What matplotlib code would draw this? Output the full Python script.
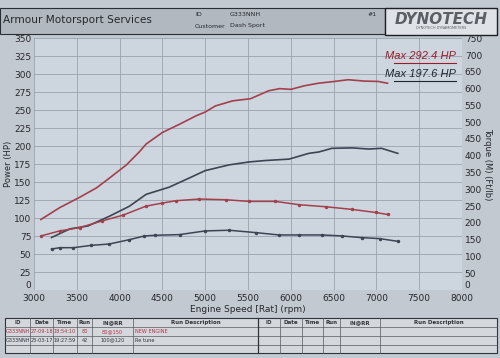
import matplotlib
matplotlib.use("Agg")
import matplotlib.pyplot as plt
from matplotlib.patches import Rectangle

# power curves (HP) against engine speed (rpm)
red_power_rpm = [3080, 3300, 3535, 3730, 3880, 4080, 4230, 4310, 4500, 4700, 4890, 5000, 5120, 5320,
                 5530, 5740, 5870, 6000, 6160, 6320, 6510, 6670, 6860, 7020, 7130]
red_power_hp = [98, 114.5, 129, 142, 155.5, 174, 192, 203, 219, 230.5, 242, 247.5, 256, 263,
                266, 277, 280, 279, 284, 287.5, 290, 292.4, 290.5, 290, 287.5]
blue_power_rpm = [3205, 3420, 3630, 3880, 4115, 4310, 4580, 4810, 5000, 5280, 5510, 5700, 5980,
                  6210, 6330, 6480, 6720, 6910, 7060, 7250]
blue_power_hp = [73, 85, 89, 102.5, 116.5, 133, 143, 155.5, 166, 174, 178, 180, 182,
                 190, 192, 197, 197.6, 196, 197, 190]

# torque curves (Ft/lb)
red_torque_rpm = [3080, 3300, 3535, 3800, 4040, 4310, 4500, 4660, 4930, 5240, 5510, 5820, 6100,
                  6410, 6720, 6990, 7130]
red_torque = [161, 176, 186, 206, 223, 250, 259, 266, 271, 269, 264, 264, 254, 248, 240, 231, 225]
blue_torque_rpm = [3205, 3300, 3460, 3670, 3880, 4115, 4290, 4410, 4700, 5000, 5280, 5590, 5860,
                   6100, 6370, 6600, 6830, 7040, 7250]
blue_torque = [122, 126, 126, 133, 137, 150, 161, 163, 165, 176, 178, 171, 164, 164, 164, 161, 156,
               153, 145]

x_ticks = [3000, 3500, 4000, 4500, 5000, 5500, 6000, 6500, 7000, 7500, 8000]
hp_ticks = list(range(0, 351, 25))
tq_ticks = list(range(0, 751, 50))

table_cols = ["ID", "Date", "Time", "Run", "IN@RR", "Run Description",
              "ID", "Date", "Time", "Run", "IN@RR", "Run Description"]
col_edges = [5, 30, 53, 77, 92, 133, 258, 280, 302, 323, 340, 380, 497]
runs = [["G333NNH", "27-09-18", "18:54:10", "80", "80@150", "NEW ENGINE"],
        ["G333NNH", "23-03-17", "19:27:59", "42", "100@120", "Re tune"]]

RED = "#a3404c"
BLUE = "#3d4553"
SANS = ["Liberation Sans", "DejaVu Sans"]

fig = plt.figure(figsize=(5, 3.58), dpi=100)
fig.patch.set_facecolor("#c3c9d0")

# page furniture drawn in pixel coordinates
bg = fig.add_axes([0, 0, 1, 1])
bg.set_xlim(0, 500)
bg.set_ylim(358, 0)
bg.axis("off")
bg.add_patch(Rectangle((0, 8), 385, 26, facecolor="#b2b8c0", edgecolor="#2a2e35", lw=0.8))
bg.text(3, 20, "Armour Motorsport Services", fontsize=7.6, va="center", color="#25282d")
bg.text(195, 14, "ID", fontsize=4.5, va="center", color="#25282d")
bg.text(230, 14, "G333NNH", fontsize=4.5, va="center", color="#25282d")
bg.text(195, 26, "Customer", fontsize=4.5, va="center", color="#25282d")
bg.text(230, 26, "Dash Sport", fontsize=4.5, va="center", color="#25282d")
bg.text(368, 14, "#1", fontsize=4.5, va="center", color="#25282d")
bg.add_patch(Rectangle((385, 8), 112, 27, facecolor="#dfe2e6", edgecolor="#1c1f24", lw=1.0))
bg.text(441, 19, "DYNOTECH", fontsize=11, fontweight="bold", style="italic",
        ha="center", va="center", color="#5b5f66")
bg.text(441, 28, "DYNOTECH DYNAMOMETERS", fontsize=2.5, ha="center", va="center", color="#5b5f66")

# run table
bg.add_patch(Rectangle((5, 318), 492, 35, facecolor="#d4d8dd", edgecolor="#30343a", lw=0.8))
for y in [327, 336, 344.5]:
    bg.plot([5, 497], [y, y], color="#555a62", lw=0.5)
for x in col_edges[1:-1]:
    bg.plot([x, x], [318, 353], color="#555a62", lw=0.5)
bg.plot([258, 258], [318, 353], color="#30343a", lw=0.9)
for i, name in enumerate(table_cols):
    bg.text((col_edges[i] + col_edges[i + 1]) / 2, 322.5, name, fontsize=4, fontweight="bold",
            ha="center", va="center", color="#30343a")
for r, row in enumerate(runs):
    yc = 331.5 + r * 8.5
    c = "#b03040" if r == 0 else "#30343a"
    for i, val in enumerate(row):
        if i == 5:
            bg.text(col_edges[i] + 2, yc, val, fontsize=3.6, ha="left", va="center", color=c)
        else:
            bg.text((col_edges[i] + col_edges[i + 1]) / 2, yc, val, fontsize=3.6,
                    ha="center", va="center", color=c)

# main chart
ax = fig.add_axes([0.068, 0.19, 0.856, 0.703])
ax.set_facecolor("#cdd6df")
ax.plot(red_power_rpm, red_power_hp, color=RED, lw=1.2)
ax.plot(blue_power_rpm, blue_power_hp, color=BLUE, lw=1.2)
ax.set_xlim(3000, 8000)
ax.set_ylim(0, 350)
ax.set_xticks(x_ticks)
ax.set_yticks(hp_ticks)
ax.grid(True, color="#9aa3ad", lw=0.6)
ax.tick_params(labelsize=6.5, length=0, colors="#25282d", pad=2)
ax.tick_params(axis="x", pad=3)
ax.set_ylabel("Power (HP)", fontsize=6, color="#25282d", labelpad=1)
ax.set_xlabel("Engine Speed [Rat] (rpm)", fontsize=6.5, color="#25282d", labelpad=1)
for s in ax.spines.values():
    s.set_visible(False)

ax2 = ax.twinx()
ax2.plot(red_torque_rpm, red_torque, color=RED, lw=1.1, marker="o", ms=1.5)
ax2.plot(blue_torque_rpm, blue_torque, color=BLUE, lw=1.1, marker="o", ms=1.5)
ax2.set_ylim(0, 750)
ax2.set_yticks(tq_ticks)
ax2.tick_params(labelsize=6.5, length=0, colors="#25282d", pad=2)
ax2.set_ylabel("Torque (M) (Ft/lb)", fontsize=6, color="#25282d", rotation=270, labelpad=7)
for s in ax2.spines.values():
    s.set_visible(False)

# lift the zero labels off the rpm labels
ax.yaxis.get_major_ticks()[0].label1.set_va("bottom")
ax2.yaxis.get_major_ticks()[0].label2.set_va("bottom")

ax.text(0.985, 0.93, "Max 292.4 HP", transform=ax.transAxes, fontsize=8, style="italic",
        family=SANS, ha="right", va="center", color="#9a1c28")
ax.text(0.985, 0.86, "Max 197.6 HP", transform=ax.transAxes, fontsize=8, style="italic",
        family=SANS, ha="right", va="center", color="#1f2633")
ax.plot([0.84, 0.985], [0.9, 0.9], transform=ax.transAxes, color="#9a1c28", lw=0.8)
ax.plot([0.84, 0.985], [0.83, 0.83], transform=ax.transAxes, color="#1f2633", lw=0.8)

fig.savefig("out.png", dpi=100)
